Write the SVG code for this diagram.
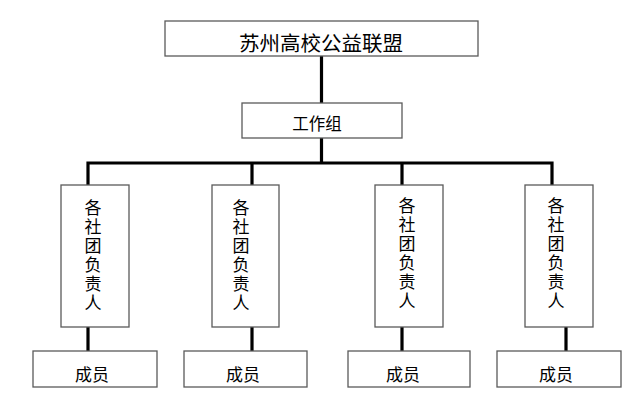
<svg xmlns="http://www.w3.org/2000/svg" width="644" height="408" viewBox="0 0 644 408">
<style>
.box{fill:#fff;stroke:#5a5a5a;stroke-width:1.3}
.t{font-family:"Noto Sans CJK SC","Liberation Sans",sans-serif;fill:#000;text-anchor:middle;dominant-baseline:central}
.v{font-family:"Noto Sans CJK SC","Liberation Sans",sans-serif;fill:#000;font-size:17px;writing-mode:vertical-rl;letter-spacing:2px;text-anchor:start}
.ln{stroke:#000;stroke-width:3.2;fill:none}
</style>
<rect width="644" height="408" fill="#fff"/>
<g id="connectors">
<path class="ln" d="M321.5 56V103M321.5 138V163M88 163H552M88 161.4V185M252 161.4V185M402 161.4V185M552 161.4V185"/>
<path class="ln" d="M88 327V351M252 327V351M402 327V351M566 327V351"/>
</g>
<g id="n-top"><rect class="box" x="165" y="21" width="313" height="35"/><text class="t" x="321" y="41.5" font-size="20.5">苏州高校公益联盟</text></g>
<g id="n-work"><rect class="box" x="242" y="103" width="160" height="35"/><text class="t" x="317" y="122.5" font-size="16.5">工作组</text></g>
<g id="n-lead1"><rect class="box" x="61" y="185" width="68" height="142"/><text class="v" x="93" y="199.5">各社团负责人</text></g>
<g id="n-lead2"><rect class="box" x="212" y="185" width="67" height="142"/><text class="v" x="241" y="199.5">各社团负责人</text></g>
<g id="n-lead3"><rect class="box" x="375" y="185" width="68" height="142"/><text class="v" x="407" y="197.5">各社团负责人</text></g>
<g id="n-lead4"><rect class="box" x="525" y="185" width="68" height="142"/><text class="v" x="556" y="197.5">各社团负责人</text></g>
<g id="n-mem1"><rect class="box" x="33" y="351" width="124" height="36"/><text class="t" x="92" y="373.5" font-size="17">成员</text></g>
<g id="n-mem2"><rect class="box" x="184" y="351" width="123" height="36"/><text class="t" x="243" y="373.5" font-size="17">成员</text></g>
<g id="n-mem3"><rect class="box" x="348" y="351" width="122" height="36"/><text class="t" x="403" y="373.5" font-size="17">成员</text></g>
<g id="n-mem4"><rect class="box" x="497" y="351" width="124" height="36"/><text class="t" x="556" y="373.5" font-size="17">成员</text></g>
</svg>
